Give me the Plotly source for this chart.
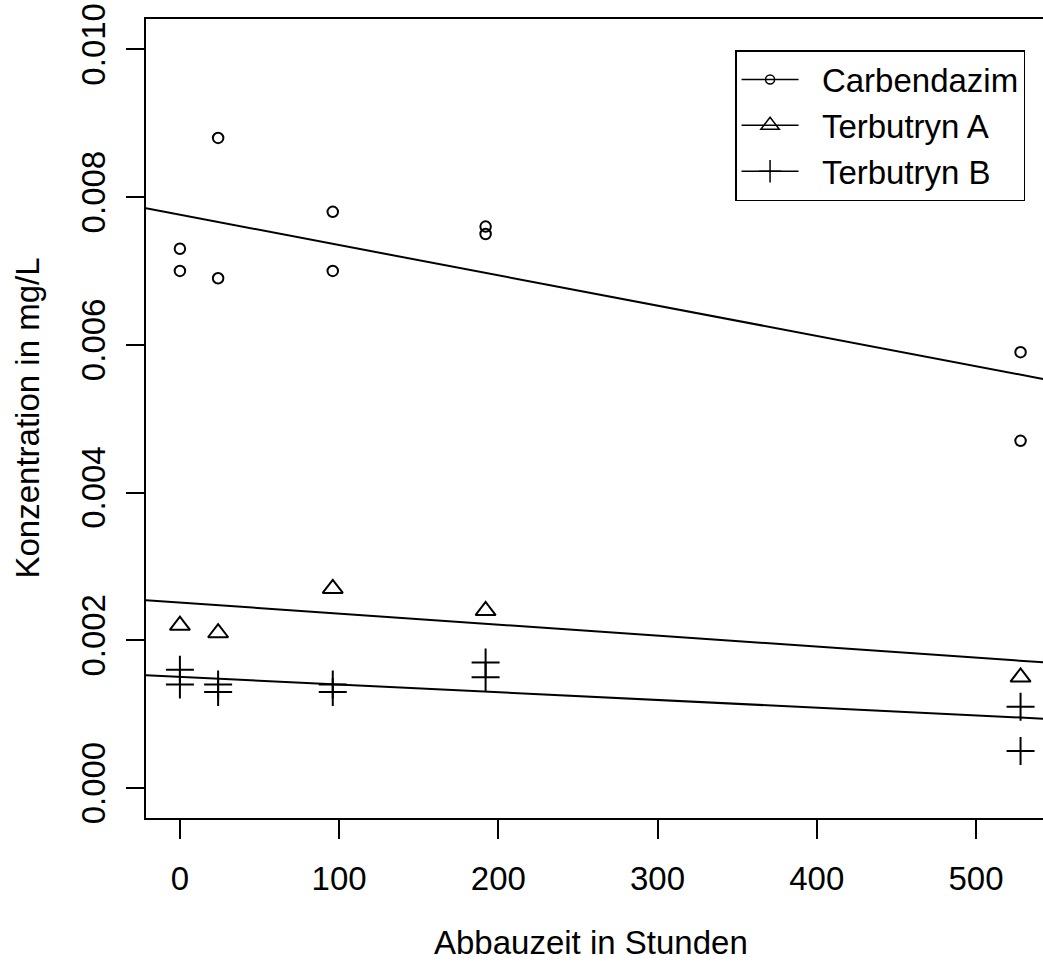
import plotly.graph_objects as go

# ---- data ----
hours = [0, 0, 24, 24, 96, 96, 192, 192, 528, 528]
carbendazim = [0.0073, 0.0070, 0.0088, 0.0069, 0.0078, 0.0070, 0.0076, 0.0075, 0.0059, 0.0047]
hours_a = [0, 24, 96, 192, 528]
terbutryn_a = [0.0022, 0.0021, 0.0027, 0.0024, 0.0015]
terbutryn_b = [0.0016, 0.0014, 0.0014, 0.0013, 0.0014, 0.0013, 0.0017, 0.0015, 0.0011, 0.0005]
series_names = ["Carbendazim", "Terbutryn A", "Terbutryn B"]
fit_intercept = [0.00776, 0.00251, 0.001505]
fit_slope = [-4.10e-6, -1.49e-6, -1.044e-6]
x_ticks = [0, 100, 200, 300, 400, 500]
y_ticks = [0.000, 0.002, 0.004, 0.006, 0.008, 0.010]

# ---- styling ----
FONT = "Liberation Sans, Arial, Helvetica, sans-serif"
FS = 33
X_RANGE = [-21.3, 542.1]
Y_RANGE = [-0.000406, 0.01041]

symbols = ["circle-open", "triangle-up-open", "cross-thin-open"]
sizes = [10.5, 17.5, 20]
legend_sizes = [9, 16, 20]
xs = [hours, hours_a, hours]
ys = [carbendazim, terbutryn_a, terbutryn_b]
NBSP = "\u00a0"

fig = go.Figure()
for i in range(3):
    # regression line across the whole plotting region
    fig.add_trace(go.Scatter(
        x=X_RANGE,
        y=[fit_intercept[i] + fit_slope[i] * X_RANGE[0], fit_intercept[i] + fit_slope[i] * X_RANGE[1]],
        mode="lines", line=dict(color="black", width=2), showlegend=False, hoverinfo="skip"))
    fig.add_trace(go.Scatter(
        x=xs[i], y=ys[i], mode="markers",
        marker=dict(symbol=symbols[i], size=sizes[i], color="black", line=dict(color="black", width=2)),
        showlegend=False))
    # legend entry (line + symbol)
    fig.add_trace(go.Scatter(
        x=[None], y=[None], mode="lines+markers", name=NBSP * 2 + series_names[i],
        line=dict(color="black", width=1.5),
        marker=dict(symbol=symbols[i], size=legend_sizes[i], color="black",
                    line=dict(color="black", width=1.5))))

fig.update_layout(
    width=1043, height=962,
    margin=dict(l=146, r=0, t=19, b=144),
    paper_bgcolor="white", plot_bgcolor="white",
    font=dict(family=FONT, size=FS, color="black"),
    showlegend=True,
    legend=dict(
        x=0.98, y=0.9612, xanchor="right", yanchor="top",
        bordercolor="black", borderwidth=1.5, bgcolor="white",
        font=dict(family=FONT, size=FS, color="black"),
        itemwidth=57, tracegroupgap=0,
    ),
    xaxis=dict(
        range=X_RANGE, tickvals=x_ticks, ticktext=[str(v) for v in x_ticks],
        showgrid=False, zeroline=False,
        showline=True, mirror=True, linecolor="black", linewidth=2,
        ticks="outside", ticklen=19, tickwidth=2, tickcolor="black",
        tickfont=dict(family=FONT, size=FS), ticklabelstandoff=11,
    ),
    yaxis=dict(
        range=Y_RANGE, tickvals=y_ticks, ticktext=["%.3f" % v for v in y_ticks],
        tickangle=-90,
        showgrid=False, zeroline=False,
        showline=True, mirror=False, linecolor="black", linewidth=2,
        ticks="outside", ticklen=18, tickwidth=2, tickcolor="black",
        tickfont=dict(family=FONT, size=FS), ticklabelstandoff=8,
    ),
    annotations=[
        dict(text="Abbauzeit in Stunden", xref="paper", yref="paper", x=0.5, y=0,
             xanchor="center", yanchor="middle", yshift=-124, xshift=-4, showarrow=False,
             font=dict(family=FONT, size=FS)),
        dict(text="Konzentration in mg/L", xref="paper", yref="paper", x=0, y=0.5,
             xanchor="center", yanchor="middle", xshift=-119, textangle=-90, showarrow=False,
             font=dict(family=FONT, size=FS)),
    ],
)

fig.write_html("out.html")
